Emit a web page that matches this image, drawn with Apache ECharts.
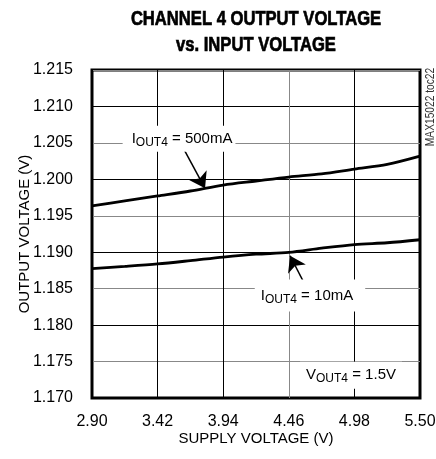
<!DOCTYPE html>
<html><head><meta charset="utf-8">
<script src="https://cdn.jsdelivr.net/npm/echarts@6/dist/echarts.min.js"></script>
<style>html,body{margin:0;padding:0;background:#fff}#c{width:436px;height:459px}</style>
</head><body><div id="c"></div>
<script>
// ---- data ----
const supplyVoltage = ['2.90','3.16','3.42','3.68','3.94','4.20','4.46','4.72','4.98','5.24','5.50'];
const vout500mA = [1.19635,1.19705,1.19772,1.19840,1.19922,1.19977,1.20031,1.20075,1.20141,1.20205,1.20318];
const vout10mA  = [1.18775,1.18805,1.18839,1.18885,1.18934,1.18973,1.18997,1.19055,1.19105,1.19130,1.19171];
const yMin = 1.170, yMax = 1.215, yStep = 0.005;
const xMin = 2.90, xMax = 5.50;
// annotation anchors in data units
const label500 = [3.59, 1.20557];
const label10 = [4.628, 1.18406];
const labelVout = [4.953, 1.17313];
const arrow500 = [[3.629, 1.2041], [3.796, 1.19877]];
const arrow10 = [[4.588, 1.18556], [4.47, 1.18952]];

const FONT = "'Liberation Sans',Arial,sans-serif";
const K = '#000', G = '#888';
const rich = {
  m: {fontSize: 15, fontFamily: FONT, color: '#000', lineHeight: 20, verticalAlign: 'middle'},
  s: {fontSize: 12, fontFamily: FONT, color: '#000', lineHeight: 12, verticalAlign: 'bottom'}
};
function lbl(coord, text, pad) {
  return {coord: coord, symbol: 'circle', symbolSize: 1, itemStyle: {color: 'rgba(0,0,0,0)'},
    label: {show: true, position: 'inside', formatter: text, rich: rich,
      backgroundColor: '#fff', padding: pad}};
}

const chart = echarts.init(document.getElementById('c'), null, {renderer: 'canvas'});
chart.setOption({
  animation: false,
  backgroundColor: '#fff',
  graphic: [{
    type: 'text', x: 256, y: 7, scaleX: 0.83,
    style: {text: 'CHANNEL 4 OUTPUT VOLTAGE\nvs. INPUT VOLTAGE', fontFamily: FONT, fontWeight: 'bold',
      fontSize: 20, lineHeight: 25.5, fill: '#000', stroke: '#000', lineWidth: 0.7,
      align: 'center', verticalAlign: 'top'}
  }, {
    type: 'text', x: 431, y: 107, rotation: Math.PI / 2, scaleX: 0.85,
    style: {text: 'MAX15022 toc22', fontFamily: FONT, fontSize: 12, fill: '#333',
      align: 'center', verticalAlign: 'middle'}
  }],
  grid: {left: 92, right: 16, top: 70, bottom: 61, show: true, borderWidth: 3, borderColor: '#000',
    backgroundColor: 'rgba(0,0,0,0)', containLabel: false, outerBoundsMode: 'none'},
  xAxis: [{
    type: 'category', data: supplyVoltage, boundaryGap: false,
    name: 'SUPPLY VOLTAGE (V)', nameLocation: 'middle', nameGap: 33, nameMoveOverlap: false,
    nameTextStyle: {fontFamily: FONT, fontSize: 15, color: '#000'},
    axisLine: {show: false}, axisTick: {show: false, interval: 1},
    axisLabel: {interval: 1, margin: 16, fontFamily: FONT, fontSize: 16, color: '#000'},
    splitLine: {show: true, interval: 1, lineStyle: {color: [K, K, K, G, K, K], width: 1}}
  }, {
    type: 'value', min: xMin, max: xMax, show: false
  }],
  yAxis: {
    type: 'value', min: yMin, max: yMax, interval: yStep,
    name: 'OUTPUT VOLTAGE (V)', nameLocation: 'middle', nameGap: 60, nameMoveOverlap: false,
    nameTextStyle: {fontFamily: FONT, fontSize: 15, color: '#000'},
    axisLine: {show: false}, axisTick: {show: false},
    axisLabel: {margin: 19, fontFamily: FONT, fontSize: 16, color: '#000',
      formatter: v => v.toFixed(3)},
    splitLine: {show: true, lineStyle: {color: [K, G], width: 1}}
  },
  series: [{
    type: 'line', name: '500mA', data: vout500mA, symbol: 'none', smooth: 0.3,
    lineStyle: {color: '#000', width: 2.8}, z: 3
  }, {
    type: 'line', name: '10mA', data: vout10mA, symbol: 'none', smooth: 0.3,
    lineStyle: {color: '#000', width: 2.8}, z: 3
  }, {
    type: 'line', xAxisIndex: 1, data: [], z: 4,
    markLine: {
      silent: true, symbol: ['none', 'arrow'], symbolSize: 15,
      lineStyle: {color: '#000', width: 1.5, type: 'solid'},
      label: {show: false},
      data: [
        [{coord: arrow500[0]}, {coord: arrow500[1]}],
        [{coord: arrow10[0]}, {coord: arrow10[1]}]
      ]
    },
    markPoint: {
      silent: true,
      data: [
        lbl(label500, '{m|I}{s|OUT4}{m| = 500mA}', [3, 3, 3, 9]),
        lbl(label10, '{m|I}{s|OUT4}{m| = 10mA}', [6, 12, 6, 6]),
        lbl(labelVout, '{m|V}{s|OUT4}{m| = 1.5V}', [3, 6, 4, 6])
      ]
    }
  }]
});
</script></body></html>
